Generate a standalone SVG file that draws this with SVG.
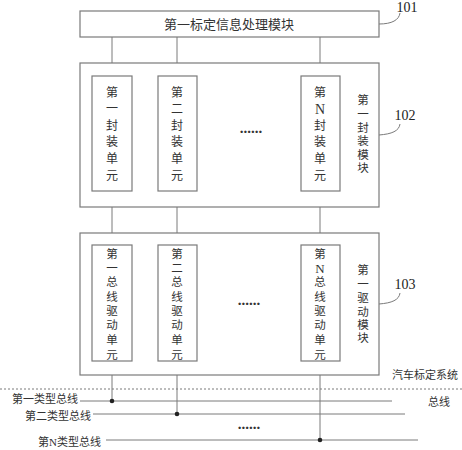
<svg xmlns="http://www.w3.org/2000/svg" width="462" height="450" viewBox="0 0 462 450">
<style>
.box{fill:#fff;stroke:#7a7a7a;stroke-width:1.2}
.ln{fill:none;stroke:#7a7a7a;stroke-width:1}
.t{font-family:"Liberation Serif","Noto Sans CJK SC",serif;fill:#333;text-anchor:middle;dominant-baseline:central}
.u{font-size:12px}
.m{font-size:11.5px}
.dots{font-family:"Liberation Serif",serif;font-size:15px;font-weight:bold;fill:#333;text-anchor:middle}
.num{font-family:"Liberation Serif",serif;font-size:14px;fill:#222;text-anchor:middle}
.b{font-family:"Liberation Serif","Noto Sans CJK SC",serif;font-size:11px;fill:#333;dominant-baseline:central}
</style>
<rect width="462" height="450" fill="#fff"/>
<g id="connectors">
<line class="ln" x1="112" y1="37" x2="112" y2="76"/>
<line class="ln" x1="177" y1="37" x2="177" y2="76"/>
<line class="ln" x1="320" y1="37" x2="320" y2="76"/>
<line class="ln" x1="112" y1="191" x2="112" y2="245"/>
<line class="ln" x1="177" y1="191" x2="177" y2="245"/>
<line class="ln" x1="320" y1="191" x2="320" y2="245"/>
<line class="ln" x1="112" y1="361" x2="112" y2="401"/>
<line class="ln" x1="177" y1="361" x2="177" y2="414"/>
<line class="ln" x1="320" y1="361" x2="320" y2="440"/>
<path class="ln" d="M379,24 C392,24 399,20 400,13"/>
<path class="ln" d="M379,135 C392,134 399,131 400,124"/>
<path class="ln" d="M379,304 C392,303 399,300 400,293"/>
</g>
<g id="n101">
<rect class="box" x="80" y="11" width="299" height="26"/>
<text class="t" x="229" y="24" font-size="13">第一标定信息处理模块</text>
<text class="num" x="407" y="12">101</text>
</g>
<g id="n102">
<rect class="box" x="80" y="63" width="299" height="144"/>
<text class="num" x="405" y="120">102</text>
<text class="t m"><tspan x="363" y="100">第</tspan><tspan x="363" y="114">一</tspan><tspan x="363" y="128">封</tspan><tspan x="363" y="141">装</tspan><tspan x="363" y="155">模</tspan><tspan x="363" y="168">块</tspan></text>
<text class="dots" x="251" y="133">......</text>
</g>
<g id="u102-1">
<rect class="box" x="92" y="76" width="40" height="115"/>
<text class="t u"><tspan x="112" y="93">第</tspan><tspan x="112" y="109">一</tspan><tspan x="112" y="126">封</tspan><tspan x="112" y="142">装</tspan><tspan x="112" y="159">单</tspan><tspan x="112" y="176">元</tspan></text>
</g>
<g id="u102-2">
<rect class="box" x="158" y="76" width="39" height="115"/>
<text class="t u"><tspan x="177" y="93">第</tspan><tspan x="177" y="109">二</tspan><tspan x="177" y="126">封</tspan><tspan x="177" y="142">装</tspan><tspan x="177" y="159">单</tspan><tspan x="177" y="176">元</tspan></text>
</g>
<g id="u102-n">
<rect class="box" x="301" y="76" width="39" height="115"/>
<text class="t u"><tspan x="320" y="93">第</tspan><tspan x="320" y="109" font-size="14">N</tspan><tspan x="320" y="126">封</tspan><tspan x="320" y="142">装</tspan><tspan x="320" y="159">单</tspan><tspan x="320" y="176">元</tspan></text>
</g>
<g id="n103">
<rect class="box" x="80" y="233" width="299" height="142"/>
<text class="num" x="405" y="289">103</text>
<text class="t m"><tspan x="363" y="270">第</tspan><tspan x="363" y="284">一</tspan><tspan x="363" y="298">驱</tspan><tspan x="363" y="312">动</tspan><tspan x="363" y="325">模</tspan><tspan x="363" y="338">块</tspan></text>
<text class="dots" x="249" y="305">......</text>
</g>
<g id="u103-1">
<rect class="box" x="92" y="245" width="40" height="116"/>
<text class="t m"><tspan x="112" y="254">第</tspan><tspan x="112" y="268">一</tspan><tspan x="112" y="282">总</tspan><tspan x="112" y="297">线</tspan><tspan x="112" y="311">驱</tspan><tspan x="112" y="325">动</tspan><tspan x="112" y="340">单</tspan><tspan x="112" y="355">元</tspan></text>
</g>
<g id="u103-2">
<rect class="box" x="158" y="245" width="39" height="116"/>
<text class="t m"><tspan x="177" y="254">第</tspan><tspan x="177" y="268">二</tspan><tspan x="177" y="282">总</tspan><tspan x="177" y="297">线</tspan><tspan x="177" y="311">驱</tspan><tspan x="177" y="325">动</tspan><tspan x="177" y="340">单</tspan><tspan x="177" y="355">元</tspan></text>
</g>
<g id="u103-n">
<rect class="box" x="301" y="245" width="39" height="116"/>
<text class="t m"><tspan x="320" y="254">第</tspan><tspan x="320" y="268" font-size="13">N</tspan><tspan x="320" y="282">总</tspan><tspan x="320" y="297">线</tspan><tspan x="320" y="311">驱</tspan><tspan x="320" y="325">动</tspan><tspan x="320" y="340">单</tspan><tspan x="320" y="355">元</tspan></text>
</g>
<g id="system">
<text class="b" x="392" y="375">汽车标定系统</text>
<line x1="0" y1="389" x2="462" y2="389" stroke="#7a7a7a" stroke-width="1" stroke-dasharray="2,2"/>
</g>
<g id="buses">
<text class="b" x="12" y="399">第一类型总线</text>
<line class="ln" x1="80" y1="401" x2="392" y2="401"/>
<circle cx="112" cy="401" r="2.3" fill="#222"/>
<text class="b" x="25" y="416">第二类型总线</text>
<line class="ln" x1="93" y1="414" x2="405" y2="414"/>
<circle cx="177" cy="414" r="2.3" fill="#222"/>
<text class="dots" x="249" y="429">......</text>
<text class="b" x="38" y="442">第N类型总线</text>
<line class="ln" x1="106" y1="440" x2="418" y2="440"/>
<circle cx="320" cy="440" r="2.3" fill="#222"/>
<text class="b" x="428" y="402">总线</text>
</g>
</svg>
